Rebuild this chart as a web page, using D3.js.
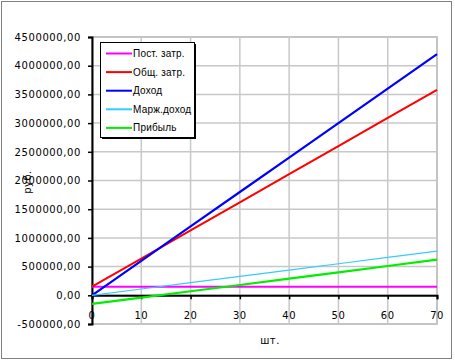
<!DOCTYPE html>
<html><head><meta charset="utf-8">
<script src="https://cdn.jsdelivr.net/npm/d3@7"></script>
<style>
body{margin:0;background:#fff;}
svg text{font-family:"DejaVu Sans",Verdana,sans-serif;font-size:10px;fill:#000;}
</style></head><body>
<svg id="c" width="455" height="363"></svg>
<script>
const units = [0,10,20,30,40,50,60,70];
const fixedCosts = [150000,150000,150000,150000,150000,150000,150000,150000];
const totalCosts = [150000,640000,1130000,1620000,2110000,2600000,3090000,3580000];
const revenue = [0,600000,1200000,1800000,2400000,3000000,3600000,4200000];
const marginIncome = [0,110000,220000,330000,440000,550000,660000,770000];
const profit = [-150000,-40000,70000,180000,290000,400000,510000,620000];
const seriesNames = ["Пост. затр.","Общ. затр.","Доход","Марж.доход","Прибыль"];
const seriesColors = ["#ff00ff","#ff0000","#0000ff","#33ccff","#00ee00"];
const seriesWidths = [2,2,2.2,1.2,2.2];
const yTicks = [-500000,0,500000,1000000,1500000,2000000,2500000,3000000,3500000,4000000,4500000];
const xTicks = [0,10,20,30,40,50,60,70];
const xTitle = "шт.";
const yTitle = "руб.";

const allSeries = [fixedCosts,totalCosts,revenue,marginIncome,profit];
const svg = d3.select("#c");
const L=92,R=437,T=37,B=324;
const x = d3.scaleLinear().domain([0,70]).range([L,R]);
const y = d3.scaleLinear().domain([-500000,4500000]).range([B,T]);
const fmt = d => d.toFixed(2).replace(".",",");

// outer border
svg.append("rect").attr("x",1.5).attr("y",1.5).attr("width",450).attr("height",357)
  .attr("fill","#fff").attr("stroke","#808080").attr("stroke-width",1);

// plot area
svg.append("rect").attr("x",L).attr("y",T).attr("width",R-L).attr("height",B-T)
  .attr("fill","#fff").attr("stroke","#a0a0a0").attr("stroke-width",1.5);

// gridlines
svg.append("g").selectAll("line").data(yTicks).join("line")
  .attr("x1",L).attr("x2",R).attr("y1",d=>y(d)).attr("y2",d=>y(d))
  .attr("stroke","#c8c8c8").attr("stroke-width",1.5);
svg.append("g").selectAll("line").data(xTicks.slice(1)).join("line")
  .attr("x1",d=>x(d)).attr("x2",d=>x(d)).attr("y1",T).attr("y2",B)
  .attr("stroke","#c8c8c8").attr("stroke-width",1.5);

// y axis
const yAxis = svg.append("g").attr("transform",`translate(${L},0)`)
  .call(d3.axisLeft(y).tickValues(yTicks).tickSize(4).tickPadding(7).tickFormat(fmt));
yAxis.select(".domain").attr("stroke","#000").attr("stroke-width",2);
yAxis.selectAll(".tick line").attr("stroke","#000").attr("stroke-width",1.5);
yAxis.selectAll("text").style("font-size","10px").style("letter-spacing","0.6px").attr("fill","#000");

// x axis at zero
const xAxis = svg.append("g").attr("transform",`translate(0,${y(0)})`)
  .call(d3.axisBottom(x).tickValues(xTicks).tickSize(4).tickFormat(""));
xAxis.select(".domain").attr("stroke","#000").attr("stroke-width",2);
xAxis.selectAll(".tick line").attr("stroke","#000").attr("stroke-width",1.5);
// x labels low
svg.append("g").selectAll("text").data(xTicks).join("text")
  .attr("x",d=>x(d)).attr("y",319).attr("text-anchor","middle")
  .style("letter-spacing","0.5px").text(d=>d);

// titles
svg.append("text").attr("x",270).attr("y",344).attr("text-anchor","middle").style("letter-spacing","0.5px").text(xTitle);
svg.append("text").attr("transform","translate(31,182) rotate(-90)").attr("text-anchor","middle").style("letter-spacing","0.5px").text(yTitle);

// lines
const line = d3.line().x((d,i)=>x(units[i])).y(d=>y(d));
allSeries.forEach((s,k)=>{
  svg.append("path").datum(s).attr("d",line).attr("fill","none")
    .attr("stroke",seriesColors[k]).attr("stroke-width",seriesWidths[k]);
});

// legend
const lg = svg.append("g");
lg.append("rect").attr("x",102).attr("y",44).attr("width",94).attr("height",95).attr("fill","#000");
lg.append("rect").attr("x",100.5).attr("y",42.5).attr("width",94).attr("height",95)
  .attr("fill","#fff").attr("stroke","#000").attr("stroke-width",1);
seriesNames.forEach((n,k)=>{
  const yy = 53.5 + k*18.6;
  lg.append("line").attr("x1",106).attr("x2",132).attr("y1",yy).attr("y2",yy)
    .attr("stroke",seriesColors[k]).attr("stroke-width",2);
  lg.append("text").attr("x",133).attr("y",yy+3.5)
    .style("font-family","'Liberation Sans',Arial,sans-serif").style("font-size","10px")
    .style("letter-spacing","0.2px").text(n);
});
</script></body></html>
